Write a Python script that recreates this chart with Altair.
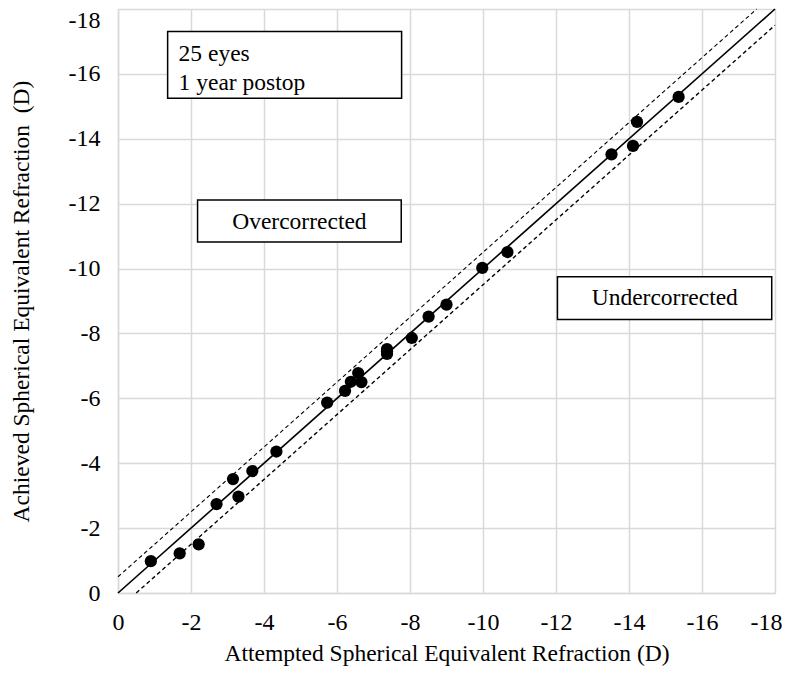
import altair as alt
import pandas as pd

# ---- data ----
attempted = [-0.90, -1.69, -2.21, -2.70, -3.30, -3.15, -3.68, -4.34, -5.73, -6.22,
             -6.38, -6.58, -6.67, -7.37, -7.37, -7.37, -8.05, -8.51, -9.00, -9.98,
             -10.67, -13.52, -14.11, -14.22, -15.36]
achieved = [-0.98, -1.22, -1.50, -2.74, -2.97, -3.51, -3.76, -4.36, -5.87, -6.23,
            -6.51, -6.78, -6.50, -7.52, -7.37, -7.45, -7.86, -8.52, -8.89, -10.02,
            -10.51, -13.52, -13.78, -14.52, -15.29]

ref_x = [0, -18]
ref_y = [0, -18]
upper_x = [0, -17.5]
upper_y = [-0.5, -18]
lower_x = [-0.5, -18]
lower_y = [0, -17.5]

tick_values = list(range(-18, 1, 2))

box_labels = ["info", "over", "under"]
box_x1 = [-1.36, -2.18, -12.04]
box_x2 = [-7.77, -7.76, -17.91]
box_y1 = [-17.31, -12.11, -9.75]
box_y2 = [-15.25, -10.82, -8.43]

info_lines = ["25 eyes", "1 year postop"]
info_x = [-1.66, -1.66]
info_y = [-16.62, -15.73]

region_texts = ["Overcorrected", "Undercorrected"]
region_x = [-4.97, -14.98]
region_y = [-11.45, -9.08]

FONT = "Liberation Serif"
GRID = "#d9d9d9"

points = pd.DataFrame({"a": attempted, "b": achieved})
ref = pd.DataFrame({"a": ref_x, "b": ref_y})
upper = pd.DataFrame({"a": upper_x, "b": upper_y})
lower = pd.DataFrame({"a": lower_x, "b": lower_y})
boxes = pd.DataFrame({"k": box_labels, "x1": box_x1, "x2": box_x2, "y1": box_y1, "y2": box_y2})
info = pd.DataFrame({"t": info_lines, "a": info_x, "b": info_y})
regions = pd.DataFrame({"t": region_texts, "a": region_x, "b": region_y})

xscale = alt.Scale(domain=[-18, 0], reverse=True, nice=False, zero=False)
yscale = alt.Scale(domain=[-18, 0], reverse=True, nice=False, zero=False)

label_expr = "datum.value == 0 ? '0' : '-' + abs(datum.value)"

xaxis = alt.Axis(
    values=tick_values, labelExpr=label_expr,
    title="Attempted Spherical Equivalent Refraction (D)",
    labelFont=FONT, labelFontSize=24, labelColor="black",
    labelBaseline="middle", labelPadding=29, labelOverlap=False, labelFlush=False,
    labelOffset={"condition": {"test": "datum.value == -18", "value": -9}, "value": 0},
    ticks=False, domainColor=GRID, domainWidth=1.5,
    grid=True, gridColor=GRID, gridWidth=1.5,
    titleFont=FONT, titleFontSize=23.5, titleFontWeight="normal", titleColor="black",
    titleY=60, titleBaseline="middle",
)
yaxis = alt.Axis(
    values=tick_values, labelExpr=label_expr,
    title="Achieved Spherical Equivalent Refraction\u00a0 (D)",
    labelFont=FONT, labelFontSize=24, labelColor="black",
    labelPadding=18, labelOverlap=False, labelFlush=False,
    labelOffset={"condition": {"test": "datum.value == -18", "value": 11}, "value": 0},
    ticks=False, domainColor=GRID, domainWidth=1.5,
    grid=True, gridColor=GRID, gridWidth=1.5,
    titleFont=FONT, titleFontSize=23.5, titleFontWeight="normal", titleColor="black",
    titleX=-97, titleAngle=270, titleBaseline="middle", titleAlign="center",
)

base_x = alt.X("a:Q", scale=xscale, axis=xaxis)
base_y = alt.Y("b:Q", scale=yscale, axis=yaxis)

line_ref = alt.Chart(ref).mark_line(color="black", strokeWidth=1.6).encode(x=base_x, y=base_y)
line_up = alt.Chart(upper).mark_line(color="black", strokeWidth=1.1, strokeDash=[4, 3]).encode(
    x=alt.X("a:Q"), y=alt.Y("b:Q"))
line_lo = alt.Chart(lower).mark_line(color="black", strokeWidth=1.4, strokeDash=[4, 3]).encode(
    x=alt.X("a:Q"), y=alt.Y("b:Q"))

pts = alt.Chart(points).mark_circle(color="black", opacity=1, size=150).encode(
    x=alt.X("a:Q"), y=alt.Y("b:Q"))

rects = alt.Chart(boxes).mark_rect(fill="white", stroke="black", strokeWidth=1.5).encode(
    x=alt.X("x1:Q"), x2="x2:Q", y=alt.Y("y1:Q"), y2="y2:Q")

info_text = alt.Chart(info).mark_text(
    align="left", baseline="middle", font=FONT, fontSize=23.5, color="black").encode(
    x=alt.X("a:Q"), y=alt.Y("b:Q"), text="t:N")

region_text = alt.Chart(regions).mark_text(
    align="center", baseline="middle", font=FONT, fontSize=23.5, color="black").encode(
    x=alt.X("a:Q"), y=alt.Y("b:Q"), text="t:N")

chart = alt.layer(
    line_ref, line_up, line_lo, pts, rects, info_text, region_text
).properties(
    width=657, height=584,
    autosize=alt.AutoSizeParams(type="none"),
    padding={"left": 110, "top": 1, "right": 8, "bottom": 74},
).configure_view(stroke=None).configure(background="white")

chart.save("out.html", embed_options={"renderer": "svg", "actions": False})
